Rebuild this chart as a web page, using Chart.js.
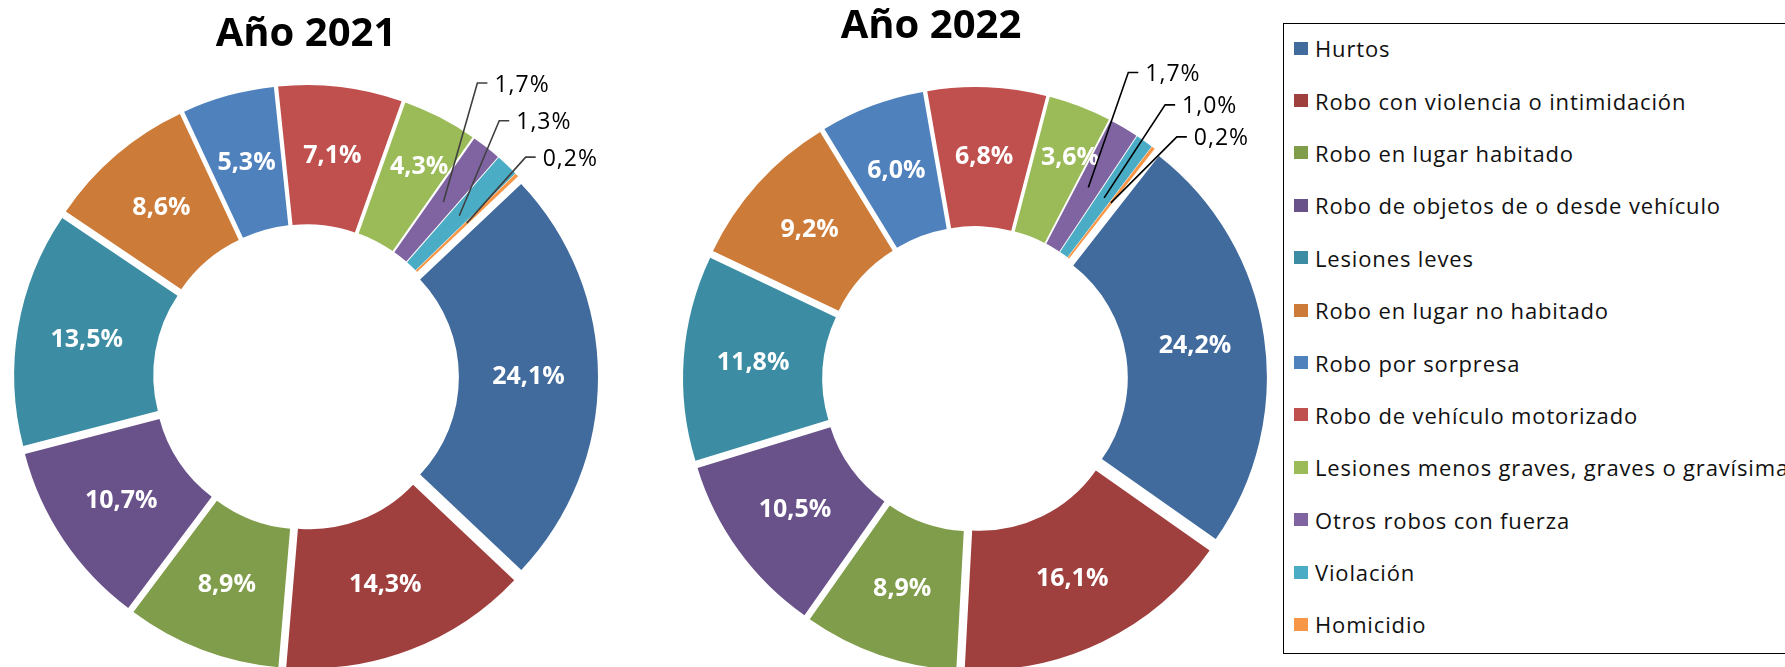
<!DOCTYPE html>
<html>
<head>
<meta charset="utf-8">
<script src="https://cdn.jsdelivr.net/npm/chart.js@4.4.0/dist/chart.umd.min.js"></script>
<style>
  body { margin: 0; width: 1785px; height: 667px; overflow: hidden; background: #fff; position: relative; font-family: "Open Sans", sans-serif; }
  canvas { position: absolute; top: 0; }
  #chart2021 { left: 0; }
  #chart2022 { left: 675px; }
  #legend { position: absolute; left: 1283px; top: 23px; width: 600px; height: 629px; border: 1.5px solid #000; }
  #legendItems { position: relative; top: -2px; }
  .item { height: 52.4px; display: flex; align-items: center; white-space: nowrap; font-size: 22px; letter-spacing: 0.85px; color: #111; }
  .box { width: 14px; height: 13px; margin-left: 10px; margin-right: 7px; flex: none; }
</style>
</head>
<body>
<canvas id="chart2021" width="612" height="754"></canvas>
<canvas id="chart2022" width="600" height="758"></canvas>
<div id="legend"><div id="legendItems"></div></div>
<script>
const categories = [
  "Hurtos",
  "Robo con violencia o intimidación",
  "Robo en lugar habitado",
  "Robo de objetos de o desde vehículo",
  "Lesiones leves",
  "Robo en lugar no habitado",
  "Robo por sorpresa",
  "Robo de vehículo motorizado",
  "Lesiones menos graves, graves o gravísimas",
  "Otros robos con fuerza",
  "Violación",
  "Homicidio"
];
const values2021 = [24.1, 14.3, 8.9, 10.7, 13.5, 8.6, 5.3, 7.1, 4.3, 1.7, 1.3, 0.2];
const values2022 = [24.2, 16.1, 8.9, 10.5, 11.8, 9.2, 6.0, 6.8, 3.6, 1.7, 1.0, 0.2];
const titles = ["Año 2021", "Año 2022"];

const colors = ["#416A9D", "#A0403E", "#809D4B", "#69518A", "#3C8DA3", "#CD7B38",
                "#4F81BD", "#C0504D", "#9BBB59", "#8064A2", "#4BACC6", "#F79646"];

// legend
const legend = document.getElementById("legendItems");
categories.forEach((c, i) => {
  const row = document.createElement("div");
  row.className = "item";
  row.innerHTML = '<span class="box" style="background:' + colors[i] + '"></span>' + c;
  legend.appendChild(row);
});

const fmt = v => v.toFixed(1).replace(".", ",") + "%";

// every slice pulled out from the centre (like excel's doughnut explosion)
const explode = {
  id: "explode",
  beforeDatasetDraw(chart, args, opts) {
    const ctx = chart.ctx;
    args.meta.data.forEach(arc => {
      const mid = (arc.startAngle + arc.endAngle) / 2;
      ctx.save();
      ctx.translate(Math.cos(mid) * opts.distance, Math.sin(mid) * opts.distance);
      arc.draw(ctx);
      ctx.restore();
    });
    return false;
  }
};

// percent labels, small slices get a leader line
const sliceLabels = {
  id: "sliceLabels",
  afterDatasetsDraw(chart, args, opts) {
    const ctx = chart.ctx;
    const meta = chart.getDatasetMeta(0);
    const data = chart.data.datasets[0].data;
    let k = 0;
    meta.data.forEach((arc, i) => {
      const mid = (arc.startAngle + arc.endAngle) / 2;
      const r = (arc.innerRadius + arc.outerRadius) / 2 + opts.distance;
      let x = arc.x + Math.cos(mid) * r;
      let y = arc.y + Math.sin(mid) * r;
      ctx.save();
      if (data[i] >= 3) {
        const n = opts.nudge[i];
        if (n) { x += n[0]; y += n[1]; }
        ctx.fillStyle = "#fff";
        ctx.font = "bold 25px 'Open Sans'";
        ctx.textAlign = "center";
        ctx.textBaseline = "middle";
        ctx.fillText(fmt(data[i]), x, y);
      } else {
        const off = opts.callouts[k++];
        const ex = x + off[0], ey = y + off[1];
        ctx.strokeStyle = opts.lineColor;
        ctx.lineWidth = 1.6;
        ctx.beginPath();
        ctx.moveTo(x, y);
        ctx.lineTo(ex, ey);
        ctx.lineTo(ex + 10, ey);
        ctx.stroke();
        ctx.fillStyle = "#000";
        ctx.font = "23px 'Open Sans'";
        ctx.letterSpacing = "1px";
        ctx.textAlign = "left";
        ctx.textBaseline = "middle";
        ctx.fillText(fmt(data[i]), ex + 17, ey + 2);
      }
      ctx.restore();
    });
  }
};

const chartTitle = {
  id: "chartTitle",
  afterDraw(chart, args, opts) {
    const ctx = chart.ctx;
    ctx.save();
    ctx.fillStyle = "#000";
    ctx.font = "bold 40px 'Open Sans'";
    ctx.textAlign = "center";
    ctx.textBaseline = "alphabetic";
    ctx.fillText(opts.text, opts.x, opts.y);
    ctx.restore();
  }
};

function makeChart(id, values, title, rotation, titlePos, callouts, lineColor, nudge) {
  return new Chart(document.getElementById(id), {
    type: "doughnut",
    data: {
      labels: categories,
      datasets: [{ data: values, backgroundColor: colors, borderWidth: 0 }]
    },
    options: {
      responsive: false,
      animation: false,
      rotation: rotation,
      radius: 281,
      cutout: "50.5%",
      layout: { padding: 0 },
      plugins: {
        legend: { display: false },
        tooltip: { enabled: false },
        explode: { distance: 11 },
        sliceLabels: { distance: 11, callouts: callouts, lineColor: lineColor, nudge: nudge },
        chartTitle: { text: title, x: titlePos[0], y: titlePos[1] }
      }
    },
    plugins: [explode, sliceLabels, chartTitle]
  });
}

makeChart("chart2021", values2021, titles[0], 46.6, [306, 46],
  [[34, -119], [40, -95], [59, -66]], "#404040", { 8: [11, -13] });
makeChart("chart2022", values2022, titles[1], 38, [256, 38],
  [[40, -115], [61, -93], [66, -66]], "#000", { 8: [15, -14] });
</script>
</body>
</html>
